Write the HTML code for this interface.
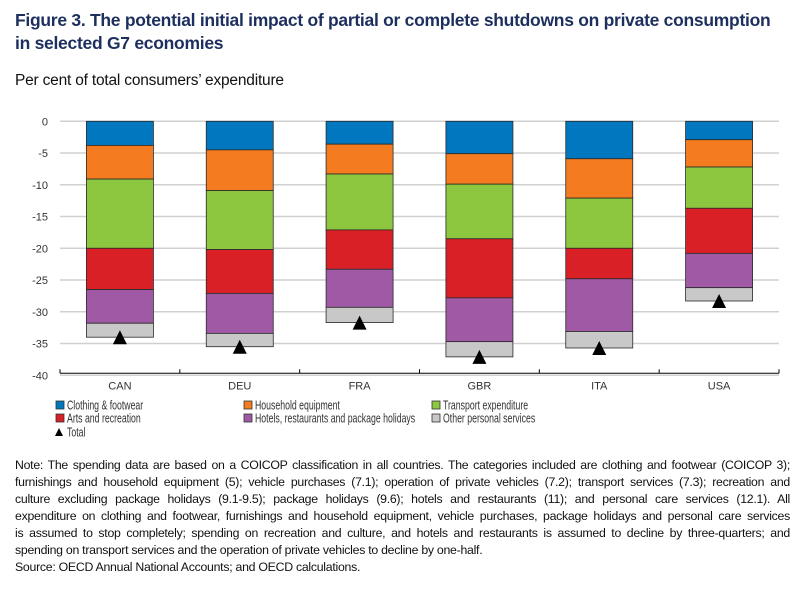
<!DOCTYPE html>
<html><head><meta charset="utf-8"><style>
body{margin:0;width:803px;height:598px;background:#fff;font-family:"Liberation Sans",sans-serif;position:relative;overflow:hidden}
.t{position:absolute;left:15px;top:9px;font-weight:bold;font-size:17.5px;color:#1d2f5e;line-height:23px;letter-spacing:-0.28px}
.sub{position:absolute;left:15px;top:72px;font-size:15.5px;color:#111;letter-spacing:-0.2px}
.note{position:absolute;left:15px;top:457px;width:775px;font-size:12.3px;color:#111;line-height:17px;letter-spacing:-0.27px}
.note div{text-align:justify;text-align-last:justify;white-space:nowrap}
.note div.l{text-align-last:left}
</style></head><body>
<div class="t">Figure 3. The potential initial impact of partial or complete shutdowns on private consumption<br>in selected G7 economies</div>
<div class="sub">Per cent of total consumers’ expenditure</div>
<svg id="chart" width="803" height="450" style="position:absolute;left:0;top:0"></svg>
<div class="note">
<div>Note: The spending data are based on a COICOP classification in all countries. The categories included are clothing and footwear (COICOP 3);</div>
<div>furnishings and household equipment (5); vehicle purchases (7.1); operation of private vehicles (7.2); transport services (7.3); recreation and</div>
<div>culture excluding package holidays (9.1-9.5); package holidays (9.6); hotels and restaurants (11); and personal care services (12.1). All</div>
<div>expenditure on clothing and footwear, furnishings and household equipment, vehicle purchases, package holidays and personal care services</div>
<div>is assumed to stop completely; spending on recreation and culture, and hotels and restaurants is assumed to decline by three-quarters; and</div>
<div class="l">spending on transport services and the operation of private vehicles to decline by one-half.</div>
<div class="l">Source: OECD Annual National Accounts; and OECD calculations.</div>
</div>
<script>
const categories=["CAN","DEU","FRA","GBR","ITA","USA"];
const seriesNames=["Clothing & footwear","Household equipment","Transport expenditure","Arts and recreation","Hotels, restaurants and package holidays","Other personal services"];
const clothing=[3.8,4.5,3.6,5.1,5.9,2.9];
const household=[5.3,6.4,4.7,4.8,6.2,4.3];
const transport=[10.9,9.3,8.8,8.6,7.9,6.5];
const arts=[6.5,6.9,6.2,9.3,4.8,7.1];
const hotels=[5.3,6.3,6.0,6.9,8.3,5.4];
const other=[2.2,2.1,2.4,2.4,2.6,2.1];
const totals=[-34.0,-35.5,-31.7,-37.1,-35.7,-28.3];
const yTicks=[0,-5,-10,-15,-20,-25,-30,-35,-40];
const colors=["#0077be","#f47b20","#8dc63f","#d92027","#a05aa5","#c8c8c8"];
const series=[clothing,household,transport,arts,hotels,other];
const svg=document.getElementById('chart');const NS="http://www.w3.org/2000/svg";
const x0=60,x1=779,yTop=121.3,yBot=375.3;
const y=v=>yTop+(0-v)/40*(yBot-yTop);
const bw=(x1-x0)/categories.length;
const cx=i=>x0+bw*(i+0.5);
function mk(t,a,p){const e=document.createElementNS(NS,t);for(const k in a)e.setAttribute(k,a[k]);(p||svg).appendChild(e);return e;}
yTicks.forEach(v=>{
 const g=mk('line',{x1:x0,x2:x1,y1:y(v),y2:y(v),stroke:'#d0d0d0','stroke-width':1.5});
 
 
 const t=mk('text',{x:48,y:y(v)+4,'text-anchor':'end','font-size':11,fill:'#333','font-family':'Liberation Sans'});
 t.textContent=v;
 
 
});
const ax=mk('line',{x1:x0,x2:x1,y1:y(-40)-2,y2:y(-40)-2,stroke:'#000','stroke-width':1});


categories.forEach((c,i)=>{
 const tk=mk('line',{x1:x0+bw*i,x2:x0+bw*i,y1:y(-40)-6,y2:y(-40)-2,stroke:'#000'});
 
 
 let cum=0;
 series.forEach((s,k)=>{
  const top=y(-cum),bot=y(-(cum+s[i]));cum+=s[i];
  const r=mk('rect',{x:cx(i)-33.5,y:top,width:67,height:bot-top,fill:colors[k],stroke:'#2a2a2a','stroke-width':0.8});
  
  
 });
 const ty=y(totals[i]);
 const tri=mk('polygon',{points:`${cx(i)-7},${ty+7} ${cx(i)+7},${ty+7} ${cx(i)},${ty-7}`,fill:'#000'});
 
 
 const t=mk('text',{x:cx(i),y:y(-40)+14,'text-anchor':'middle','font-size':11,fill:'#333','font-family':'Liberation Sans'});
 t.textContent=c;
 
 
});
mk('line',{x1:x1,x2:x1,y1:y(-40)-6,y2:y(-40)-2,stroke:'#000'});
const lx=[56,244,432],ly=[405,418];
seriesNames.forEach((n,k)=>{
 const X=lx[k%3],Y=ly[Math.floor(k/3)];
 const r=mk('rect',{x:X,y:Y-4,width:8,height:8,fill:colors[k],stroke:'#333','stroke-width':0.8});
 
 
 const t=mk('text',{transform:`translate(${X+11},${Y+4.5}) scale(0.7,1)`,'font-size':12.5,fill:'#333','font-family':'Liberation Sans'});
 t.textContent=n;
 
 
});
const lt=mk('polygon',{points:'55,436 63,436 59,428',fill:'#000'});


const tt=mk('text',{transform:'translate(67,436.5) scale(0.7,1)','font-size':12.5,fill:'#333','font-family':'Liberation Sans'});
tt.textContent='Total';


</script>
</body></html>
